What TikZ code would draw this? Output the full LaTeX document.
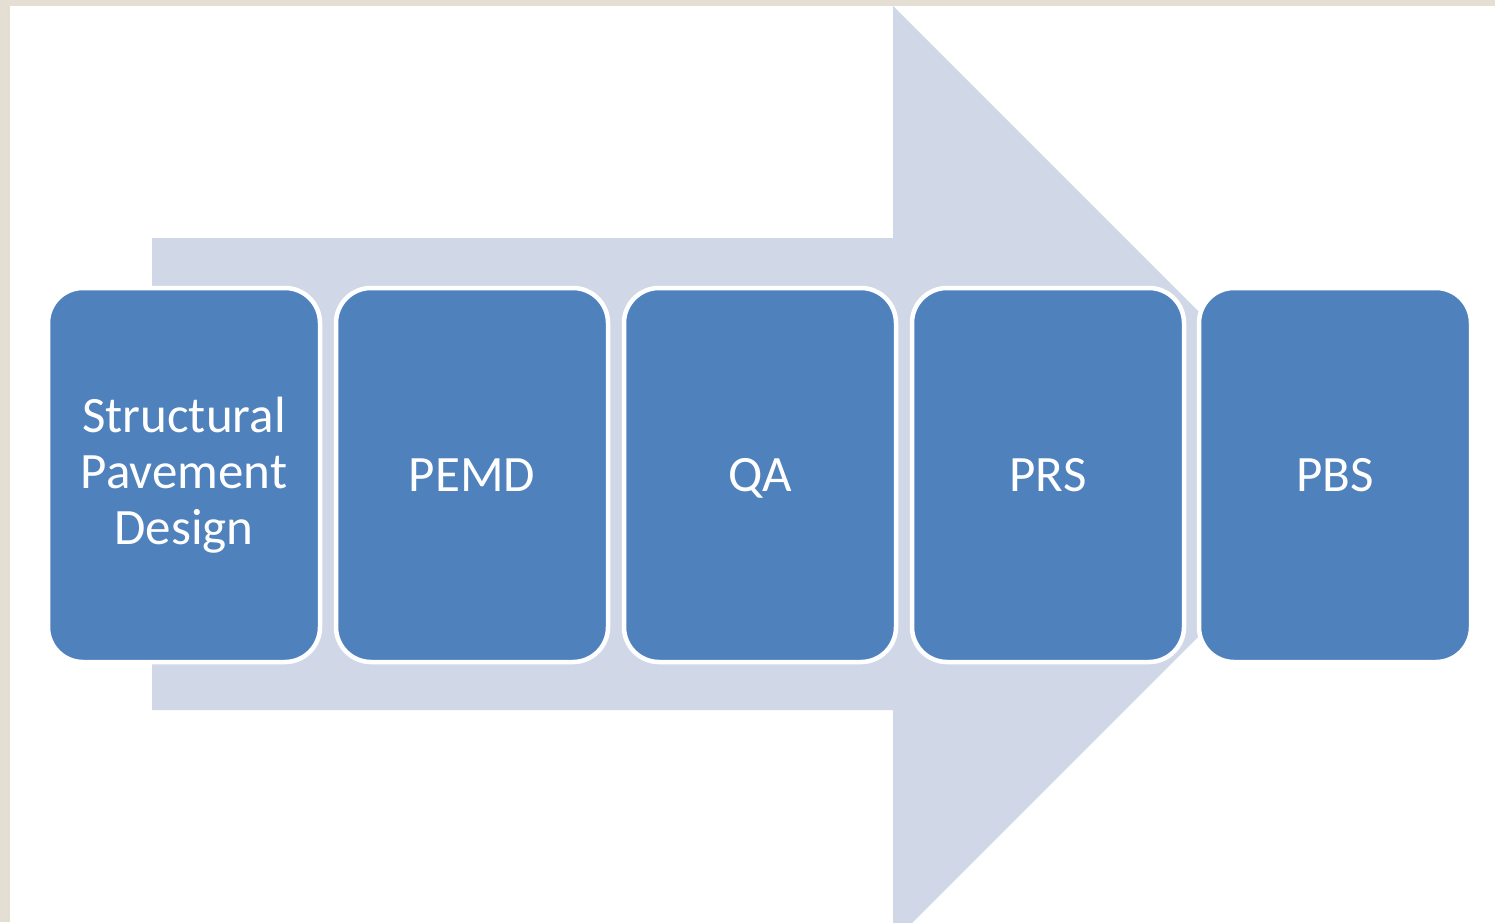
\documentclass[tikz,border=0pt]{standalone}
\usepackage{fontspec}
\setmainfont{Carlito}
\definecolor{frame}{HTML}{E5DED3}
\definecolor{arrowfill}{HTML}{D0D8E8}
\definecolor{boxblue}{HTML}{4F81BD}
\tikzset{
  stepbox/.style={draw=white, line width=4.5pt, fill=boxblue, rounded corners=35pt,
    minimum width=272pt, minimum height=374pt, inner sep=0pt, text=white,
    align=center, font=\fontsize{51}{56}\selectfont},
  oneline/.style={text height=33pt, text depth=0pt},
}
\begin{document}
\begin{tikzpicture}[x=1pt,y=-1pt]
\useasboundingbox (0,0) rectangle (1495,922);
\fill[frame] (0,0) rectangle (1495,922);
\fill[white] (10,6) rectangle (1495,922);
\begin{scope}
\clip (10,6) rectangle (1495,922);
\fill[arrowfill] (152,238) -- (893,238) -- (893,6) -- (1361,474) -- (893,942) -- (893,710) -- (152,710) -- cycle;
\end{scope}
\node[stepbox] (spd) at (184,475) {Structural\\Pavement\\Design};
\node[stepbox,oneline] (pemd) at (472,475) {PEMD};
\node[stepbox,oneline] (qa) at (760,475) {QA};
\node[stepbox,oneline] (prs) at (1048,475) {PRS};
\node[stepbox,oneline] (pbs) at (1335,475) {PBS};
\end{tikzpicture}
\end{document}
